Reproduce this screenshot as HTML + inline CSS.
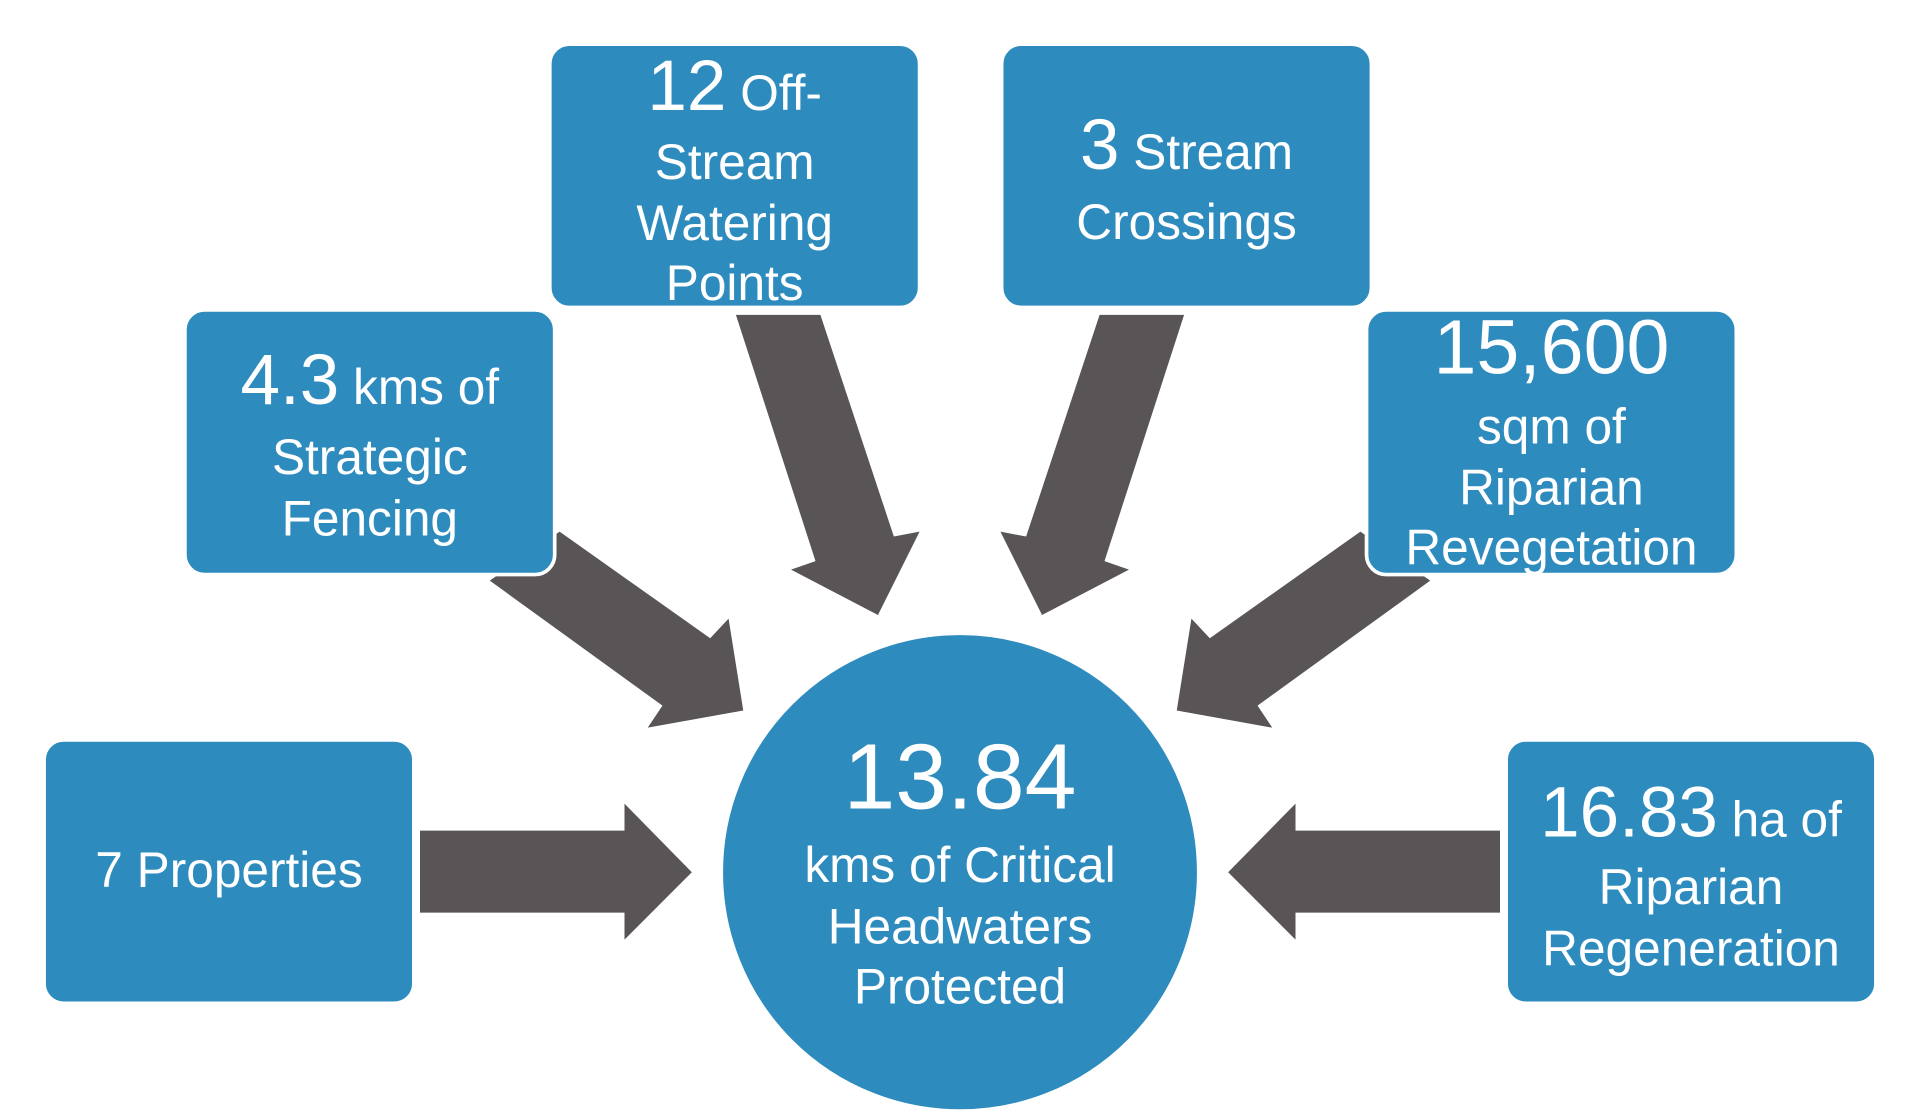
<!DOCTYPE html>
<html><head><meta charset="utf-8"><style>
html,body{margin:0;padding:0;background:#fff;}
svg{display:block;}
text{font-family:"Liberation Sans",sans-serif;fill:#fff;text-anchor:middle;}
</style></head><body>
<svg width="1920" height="1116" viewBox="0 0 1568 911" preserveAspectRatio="none" xmlns="http://www.w3.org/2000/svg">
<g fill="#595456">
<polygon points="343,678 510,678 510,656 565,712 510,767 510,745 343,745"/>
<polygon points="1225,678 1058,678 1058,656 1003,712 1058,767 1058,745 1225,745"/>
<polygon points="457,434 580,521 595,505 607,580 529,594 541,576 400,474"/>
<polygon points="1111,434 988,521 973,505 961,580 1039,594 1027,576 1168,474"/>
<polygon points="601,257 670,257 730,438 751,434 717,502 646,465 666,458"/>
<polygon points="967,257 898,257 838,438 817,434 851,502 922,465 902,458"/>
</g>
<g fill="#2E8BBE" stroke="#fff" stroke-width="3">
<rect x="449" y="36" width="302" height="215" rx="16"/>
<rect x="818" y="36" width="302" height="215" rx="16"/>
<rect x="151" y="253" width="302" height="216" rx="16"/>
<rect x="1116" y="253" width="302" height="216" rx="16"/>
<rect x="36" y="604" width="302" height="215" rx="16"/>
<rect x="1230" y="604" width="302" height="215" rx="16"/>
<circle cx="784" cy="712" r="195"/>
</g>
<text x="600" y="90" font-size="40.5"><tspan font-size="58">12</tspan> Off-</text>
<text x="600" y="146" font-size="40.5">Stream</text>
<text x="600" y="196" font-size="40.5">Watering</text>
<text x="600" y="245" font-size="40.5">Points</text>
<text x="969" y="138" font-size="40.5"><tspan font-size="58">3</tspan> Stream</text>
<text x="969" y="195" font-size="40.5">Crossings</text>
<text x="302" y="330" font-size="40.5"><tspan font-size="58">4.3</tspan> kms of</text>
<text x="302" y="387" font-size="40.5">Strategic</text>
<text x="302" y="437" font-size="40.5">Fencing</text>
<text x="1267" y="305" font-size="63">15,600</text>
<text x="1267" y="362" font-size="40.5">sqm of</text>
<text x="1267" y="412" font-size="40.5">Riparian</text>
<text x="1267" y="461" font-size="40.5">Revegetation</text>
<text x="187" y="724" font-size="40.5">7 Properties</text>
<text x="1381" y="683" font-size="40.5"><tspan font-size="58">16.83</tspan> ha of</text>
<text x="1381" y="738" font-size="40.5">Riparian</text>
<text x="1381" y="788" font-size="40.5">Regeneration</text>
<text x="784" y="660" font-size="76">13.84</text>
<text x="784" y="720" font-size="40.5">kms of Critical</text>
<text x="784" y="770" font-size="40.5">Headwaters</text>
<text x="784" y="819" font-size="40.5">Protected</text>
</svg>
</body></html>
